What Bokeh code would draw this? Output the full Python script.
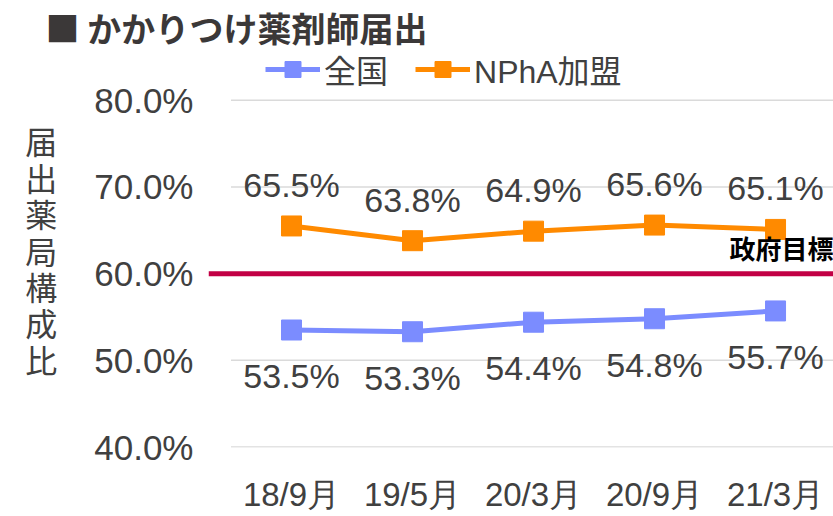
from bokeh.plotting import figure
from bokeh.models import (ColumnDataSource, FixedTicker, Label, Legend, LegendItem, Span)
from bokeh.core.properties import value
from bokeh.embed import file_html
from bokeh.resources import INLINE

# ---- data ----
categories = ["18/9月", "19/5月", "20/3月", "20/9月", "21/3月"]
national = [53.5, 53.3, 54.4, 54.8, 55.7]
npha = [65.5, 63.8, 64.9, 65.6, 65.1]
series_names = ["全国", "NPhA加盟"]
ytick_values = [40, 50, 60, 70, 80]
ytick_labels = ["40.0%", "50.0%", "60.0%", "70.0%", "80.0%"]
target_value = 60
target_label = "政府目標"
title_text = "■ かかりつけ薬剤師届出"
ytitle_text = "届出薬局構成比"

BLUE = "#7B8CFF"
ORANGE = "#FF8A00"
RED = "#C20045"
TXT = "#404040"
NUMFONT = "Liberation Sans"
JPFONT = "Noto Sans CJK JP"
MIXFONT = "Liberation Sans, Noto Sans CJK JP"

xs = list(range(len(categories)))

p = figure(width=833, height=516, output_backend="svg", toolbar_location=None,
           x_range=(-0.686, 4.479), y_range=(39.95, 85.62),
           min_border_left=208, min_border_right=0, min_border_top=0,
           min_border_bottom=69)
p.outline_line_color = None
p.background_fill_color = "white"
p.border_fill_color = "white"
p.xgrid.visible = False
p.ygrid.visible = False

p.title.text = title_text
p.title.text_font = JPFONT
p.title.text_font_style = "bold"
p.title.text_font_size = "34px"
p.title.text_color = "#3B3838"
p.title.align = "left"
p.title.offset = -163
p.title.standoff = 0

# gridlines limited to the category span
p.segment(x0=[-0.5] * len(ytick_values), x1=[4.5] * len(ytick_values),
          y0=ytick_values, y1=ytick_values, line_color="#DADADA", line_width=1.5)

# target line
p.add_layout(Span(location=target_value, dimension="width", line_color=RED, line_width=5))
p.add_layout(Label(x=3.62, y=target_value, y_offset=8, text=target_label,
                   text_font=JPFONT, text_font_style="bold", text_font_size="26px",
                   text_color="black", text_align="left", text_baseline="bottom"))

src_n = ColumnDataSource(dict(x=xs, y=national, lab=[f"{v:.1f}%" for v in national]))
src_p = ColumnDataSource(dict(x=xs, y=npha, lab=[f"{v:.1f}%" for v in npha]))

ln_n = p.line("x", "y", source=src_n, line_color=BLUE, line_width=5)
mk_n = p.scatter("x", "y", source=src_n, marker="square", size=20, fill_color=BLUE, line_color=BLUE)
ln_p = p.line("x", "y", source=src_p, line_color=ORANGE, line_width=5)
mk_p = p.scatter("x", "y", source=src_p, marker="square", size=20, fill_color=ORANGE, line_color=ORANGE)

p.text("x", "y", text="lab", source=src_p, y_offset=-41, text_align="center",
       text_baseline="middle", text_font=value(NUMFONT), text_font_size="34px", text_color=TXT)
p.text("x", "y", text="lab", source=src_n, y_offset=46, text_align="center",
       text_baseline="middle", text_font=value(NUMFONT), text_font_size="34px", text_color=TXT)

# axes
p.yaxis.ticker = FixedTicker(ticks=ytick_values)
p.yaxis.bounds = (39.95, 80)
p.yaxis.major_label_overrides = {v: s for v, s in zip(ytick_values, ytick_labels)}
p.yaxis.major_label_text_font = NUMFONT
p.yaxis.major_label_text_font_size = "35px"
p.yaxis.major_label_text_color = TXT
p.yaxis.major_label_standoff = 15
p.yaxis.major_tick_out = 0
p.yaxis.major_tick_in = 0
p.yaxis.axis_line_color = None
p.yaxis.major_tick_line_color = None
p.yaxis.minor_tick_line_color = None
p.yaxis.axis_label = "\n".join(list(ytitle_text))
p.yaxis.axis_label_orientation = "horizontal"
p.yaxis.axis_label_text_font = JPFONT
p.yaxis.axis_label_text_font_style = "normal"
p.yaxis.axis_label_text_font_size = "32px"
p.yaxis.axis_label_text_color = TXT
p.yaxis.axis_label_text_line_height = 0.79
p.yaxis.axis_label_standoff = 34

p.xaxis.ticker = FixedTicker(ticks=xs)
p.xaxis.major_label_overrides = {i: c for i, c in zip(xs, categories)}
p.xaxis.major_label_text_font = NUMFONT
p.xaxis.major_label_text_font_size = "33px"
p.xaxis.major_label_text_color = TXT
p.xaxis.major_label_standoff = 28
p.xaxis.major_tick_out = 0
p.xaxis.major_tick_in = 0
p.xaxis.axis_line_color = None
p.xaxis.major_tick_line_color = None
p.xaxis.minor_tick_line_color = None

legend = Legend(items=[LegendItem(label=series_names[0], renderers=[ln_n, mk_n]),
                       LegendItem(label=series_names[1], renderers=[ln_p, mk_p])],
                location=(57, 355), orientation="horizontal",
                glyph_width=55, glyph_height=40, label_standoff=4, spacing=27,
                padding=0, margin=0, border_line_color=None, background_fill_alpha=0,
                label_text_font=MIXFONT, label_text_font_size="32px", label_text_color=TXT)
p.add_layout(legend)

open("out.html", "w").write(file_html(p, INLINE))
